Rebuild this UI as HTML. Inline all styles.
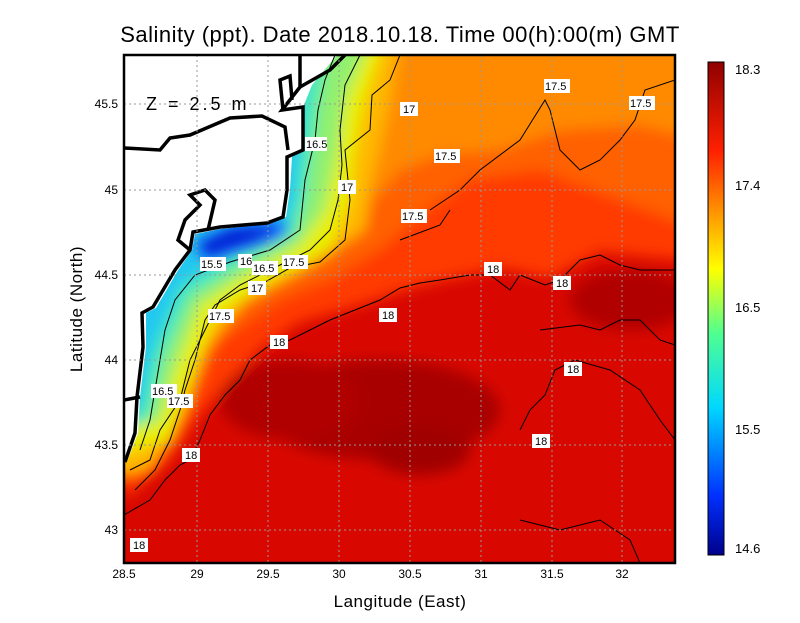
<!DOCTYPE html>
<html><head><meta charset="utf-8"><style>
body{margin:0;background:#fff;}
svg text{font-family:"Liberation Sans",sans-serif;}
</style></head><body>
<svg width="800" height="618" viewBox="0 0 800 618" xmlns="http://www.w3.org/2000/svg">
<defs>
<clipPath id="pc"><rect x="124" y="55" width="551" height="508"/></clipPath>
<filter id="bl" x="-20%" y="-20%" width="140%" height="140%"><feGaussianBlur stdDeviation="7"/></filter>
<linearGradient id="cb" x1="0" y1="1" x2="0" y2="0">
<stop offset="0" stop-color="#00008c"/>
<stop offset="0.12" stop-color="#0030ff"/>
<stop offset="0.3" stop-color="#00d8ff"/>
<stop offset="0.45" stop-color="#50ff90"/>
<stop offset="0.58" stop-color="#ffff00"/>
<stop offset="0.7" stop-color="#ff9000"/>
<stop offset="0.82" stop-color="#ff2000"/>
<stop offset="1" stop-color="#900000"/>
</linearGradient>
</defs>
<text x="400" y="42" font-size="22" text-anchor="middle" letter-spacing="0.5">Salinity (ppt). Date 2018.10.18. Time 00(h):00(m) GMT</text>
<g clip-path="url(#pc)">
<rect x="100" y="40" width="600" height="540" fill="#d80800"/>
<g filter="url(#bl)">
<polygon fill="#ff3a00" points="124,500 170,460 200,415 235,375 265,345 300,322 350,308 420,285 500,268 550,278 600,252 700,262 700,40 100,40"/>
<polygon fill="#ff6000" points="100,40 700,40 700,230 620,200 540,170 470,180 420,215 380,250 330,280 280,300 220,340 190,400 165,450 100,480"/>
<polygon fill="#ff8a00" points="380,40 700,40 700,140 640,125 560,130 500,150 440,155 400,170 375,200"/>
<polygon fill="#ffb800" points="100,40 400,40 390,100 375,170 365,230 305,268 245,300 205,350 185,410 150,470 100,480"/>
<polygon fill="#e8f000" points="100,40 385,40 365,100 355,150 350,200 330,250 270,282 215,318 190,380 170,440 100,460"/>
<polygon fill="#90f070" points="100,40 370,40 345,100 338,150 325,210 300,245 250,272 200,305 175,370 160,420 100,440"/>
<polygon fill="#40e8c0" points="100,40 330,40 318,100 312,150 305,200 295,235 245,262 190,295 162,360 148,420 100,430"/>
<polygon fill="#20c8f0" points="100,40 300,40 300,140 295,200 280,232 230,255 180,285 152,350 140,410 100,420"/>
<polygon fill="#1050ff" points="193,244 230,226 288,220 285,236 250,248 210,262"/>
<ellipse cx="380" cy="410" rx="120" ry="50" fill="#a80000"/>
<ellipse cx="290" cy="400" rx="70" ry="40" fill="#b00000"/>
<ellipse cx="630" cy="300" rx="60" ry="30" fill="#b00000"/>
<ellipse cx="420" cy="450" rx="50" ry="25" fill="#a00000"/>
</g>
<polygon fill="#0018c0" points="200,244 230,230 275,226 260,238 225,248 205,256" filter="url(#bl)" opacity="0.8"/>
<polygon fill="#fff" points="124,55 337,55 312,85 304,105 303,150 292,157 290,190 286,217 267,224 220,229 195,234 192,250 177,272 156,308 146,313 146,347 140,397 138,433 127,462 124,462"/>
<g fill="none" stroke="#000" stroke-width="3.5">
<polyline points="300,55 300,87 282,110 303,107 303,150 287,157 287,190 283,217 267,223 220,227 193,232 190,250 175,270 153,307 142,313 143,347 137,397 135,433 125,462"/>
<polyline points="124,148 160,150 170,138 190,135 230,118 262,116 285,127 288,150"/>
<polyline points="300,87 330,70 345,55"/>
<polyline points="283,110 280,80 290,76 292,100"/>
<polyline points="190,250 178,240 185,220 200,205 190,195 205,190 215,200 208,230"/>
<polyline points="124,400 140,397"/>
</g>
<g fill="none" stroke="#000" stroke-width="1">
<polyline points="335,55 325,80 318,110 315,140 305,180 300,230 270,250 230,262 195,275 175,300 165,330 160,360 155,390 150,420 140,450"/>
<polyline points="360,55 345,85 340,130 342,165 338,200 330,230 310,250 270,270 240,285 220,300 205,330 190,360 180,400 160,430 150,460 130,470"/>
<polyline points="400,55 390,80 372,95 370,130 345,150 350,200 345,240 320,262 290,268 265,282 240,290 215,305 205,320 200,340 195,360 185,390 180,410 170,440 155,470 135,490"/>
<polyline points="124,515 150,500 165,480 180,465 190,460 200,440 210,415 225,395 240,380 250,360 270,345 290,340 310,330 330,320 355,310 380,300 400,288 420,283 440,280 470,275 490,275 510,290 520,275 545,285 560,280 580,260 600,255 620,265 640,270 675,270"/>
<polyline points="540,330 580,325 600,330 620,320 640,320 660,340 675,345"/>
<polyline points="520,430 530,410 545,395 555,370 575,360 610,370 640,390 660,420 675,440"/>
<polyline points="430,210 460,190 480,170 520,140 545,100 550,110 560,150 580,170 600,160 620,140 635,120 645,90 675,80"/>
<polyline points="400,240 440,225 450,210"/>
<polyline points="520,520 560,530 600,520 630,540 640,563"/>
</g>
<g stroke="#999" stroke-width="1" stroke-dasharray="2,3">
<line x1="197" y1="55" x2="197" y2="563"/><line x1="268" y1="55" x2="268" y2="563"/><line x1="339" y1="55" x2="339" y2="563"/><line x1="410" y1="55" x2="410" y2="563"/><line x1="481" y1="55" x2="481" y2="563"/><line x1="552" y1="55" x2="552" y2="563"/><line x1="622" y1="55" x2="622" y2="563"/>
<line x1="124" y1="104" x2="675" y2="104"/><line x1="124" y1="190" x2="675" y2="190"/><line x1="124" y1="275" x2="675" y2="275"/><line x1="124" y1="360" x2="675" y2="360"/><line x1="124" y1="445" x2="675" y2="445"/><line x1="124" y1="530" x2="675" y2="530"/>
</g>
<text x="146" y="110" font-size="18" letter-spacing="3">Z = 2.5 m</text>
<g font-size="11">
<g fill="#fff"><rect x="305" y="137" width="22" height="14"/><rect x="400" y="102" width="18" height="14"/><rect x="338" y="180" width="18" height="14"/><rect x="544" y="79" width="26" height="14"/><rect x="629" y="96" width="26" height="14"/><rect x="434" y="149" width="26" height="14"/><rect x="401" y="209" width="26" height="14"/><rect x="200" y="257" width="26" height="14"/><rect x="238" y="254" width="14" height="14"/><rect x="252" y="261" width="26" height="14"/><rect x="282" y="255" width="26" height="14"/><rect x="248" y="281" width="18" height="14"/><rect x="208" y="309" width="26" height="14"/><rect x="484" y="262" width="18" height="14"/><rect x="553" y="276" width="18" height="14"/><rect x="379" y="308" width="18" height="14"/><rect x="270" y="335" width="18" height="14"/><rect x="564" y="362" width="18" height="14"/><rect x="151" y="384" width="26" height="14"/><rect x="167" y="394" width="26" height="14"/><rect x="532" y="434" width="18" height="14"/><rect x="182" y="448" width="18" height="14"/><rect x="130" y="538" width="18" height="14"/></g>
<text x="306" y="148">16.5</text><text x="403" y="113">17</text><text x="341" y="191">17</text><text x="545" y="90">17.5</text><text x="630" y="107">17.5</text><text x="435" y="160">17.5</text><text x="402" y="220">17.5</text><text x="201" y="268">15.5</text><text x="240" y="265">16</text><text x="253" y="272">16.5</text><text x="283" y="266">17.5</text><text x="251" y="292">17</text><text x="209" y="320">17.5</text><text x="487" y="273">18</text><text x="556" y="287">18</text><text x="382" y="319">18</text><text x="273" y="346">18</text><text x="567" y="373">18</text><text x="152" y="395">16.5</text><text x="168" y="405">17.5</text><text x="535" y="445">18</text><text x="185" y="459">18</text><text x="133" y="549">18</text>
</g>
</g>
<rect x="124" y="55" width="551" height="508" fill="none" stroke="#000" stroke-width="2.5"/>
<g font-size="12" text-anchor="middle">
<text x="124" y="578">28.5</text><text x="197" y="578">29</text><text x="268" y="578">29.5</text><text x="339" y="578">30</text><text x="410" y="578">30.5</text><text x="481" y="578">31</text><text x="552" y="578">31.5</text><text x="622" y="578">32</text>
</g>
<g font-size="12" text-anchor="end">
<text x="118" y="108">45.5</text><text x="118" y="194">45</text><text x="118" y="279">44.5</text><text x="118" y="364">44</text><text x="118" y="449">43.5</text><text x="118" y="534">43</text>
</g>
<text x="400" y="607" font-size="17" text-anchor="middle" letter-spacing="0.5">Langitude (East)</text>
<text x="82" y="309" font-size="17" text-anchor="middle" letter-spacing="0.5" transform="rotate(-90 82 309)">Latitude (North)</text>
<rect x="708" y="62" width="16" height="493" fill="url(#cb)" stroke="#000" stroke-width="1"/>
<g font-size="13">
<text x="735" y="74">18.3</text><text x="735" y="190">17.4</text><text x="735" y="312">16.5</text><text x="735" y="434">15.5</text><text x="735" y="553">14.6</text>
</g>
</svg>
</body></html>
